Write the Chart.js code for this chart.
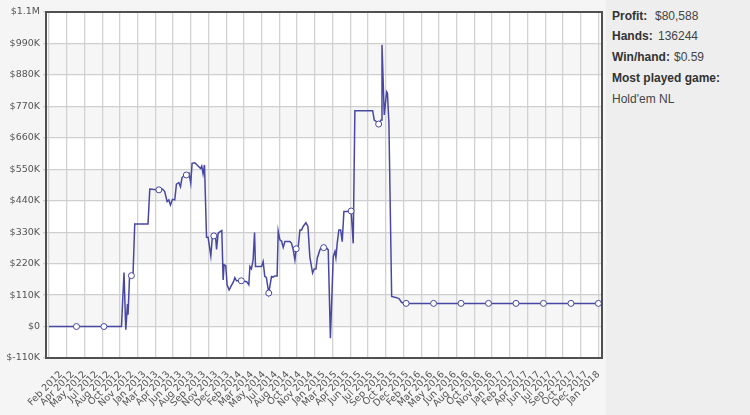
<!DOCTYPE html>
<html>
<head>
<meta charset="utf-8">
<script src="https://cdn.jsdelivr.net/npm/chart.js@4"></script>
<style>
  body{margin:0;background:#f5f5f5;width:750px;height:415px;overflow:hidden;position:relative;font-family:"Liberation Sans",Arial,sans-serif}
  #wrap{position:absolute;left:0;top:0;width:606px;height:415px}
  #side{position:absolute;left:606px;top:0;width:144px;height:415px;background:#eeeeee}
  #stats{position:absolute;left:6px;top:5.5px;font-size:12px;line-height:20.8px;color:#444;width:140px}
  #stats div{position:relative;height:20.8px;white-space:nowrap}
  #stats b{color:#333}
  #stats span{position:absolute;top:0}
</style>
</head>
<body>
<div id="wrap"><canvas id="myChart"></canvas></div>
<div id="side">
  <div id="stats">
    <div><b>Profit:</b><span style="left:43px">$80,588</span></div>
    <div><b>Hands:</b><span style="left:46px">136244</span></div>
    <div><b>Win/hand:</b><span style="left:62px">$0.59</span></div>
    <div><b>Most played game:</b></div>
    <div>Hold'em NL</div>
  </div>
</div>
<script>
// x axis labels (one tick each, evenly spaced)
const xLabels = ['Feb 2012','Apr 2012','May 2012','Jul 2012','Aug 2012','Oct 2012','Nov 2012',
  'Jan 2013','Mar 2013','Apr 2013','Jun 2013','Aug 2013','Sep 2013','Nov 2013','Dec 2013',
  'Feb 2014','Mar 2014','May 2014','Jul 2014','Aug 2014','Oct 2014','Nov 2014',
  'Jan 2015','Mar 2015','Apr 2015','Jun 2015','Jul 2015','Sep 2015','Oct 2015','Dec 2015',
  'Feb 2016','Mar 2016','May 2016','Jun 2016','Aug 2016','Oct 2016','Nov 2016',
  'Jan 2017','Feb 2017','Apr 2017','Jun 2017','Jul 2017','Sep 2017','Oct 2017','Dec 2017','Jan 2018'];

// position along the x axis (in label steps) and running profit in $K
const pos = [0,2.3,4.6,6.07,6.28,6.43,6.57,6.62,6.74,6.9,7.04,7.18,8.29,8.44,9.0,9.2,9.5,9.69,9.89,10.03,10.17,10.34,
  10.53,10.67,10.87,11.01,11.14,11.37,11.5,11.73,11.87,11.98,12.21,12.4,12.69,12.79,12.9,13.02,13.19,13.32,13.55,13.68,
  13.8,13.95,14.03,14.16,14.35,14.47,14.58,14.66,14.8,14.91,15.08,15.3,15.45,15.56,15.7,16.1,16.55,16.73,16.82,16.95,
  17.09,17.21,17.29,17.8,17.93,18.07,18.2,18.4,18.49,18.63,18.77,18.91,19.1,19.19,19.33,19.47,19.61,19.75,19.89,20.17,
  20.3,20.44,20.59,20.7,20.87,21.01,21.15,21.28,21.51,21.68,21.84,22.07,22.2,22.35,22.46,22.68,22.82,23.0,23.2,23.38,
  23.56,23.8,23.94,24.02,24.13,24.27,24.42,24.55,24.69,24.9,25.1,25.3,25.47,25.61,27.1,27.23,27.37,27.6,27.71,27.8,
  27.88,28.07,28.27,28.34,28.46,28.69,29.11,29.3,29.53,29.9,32.2,34.5,36.8,39.1,41.4,43.7,46];
const profitK = [0,0,0,0,189,-11,79,41,170,178,188,359,359,481,478,478,481,472,437,443,425,445,
  443,498,503,489,521,530,530,536,501,571,573,565,553,561,534,565,312,312,247,315,
  317,312,270,326,333,336,163,216,213,146,128,146,157,171,160,160,157,146,210,202,
  233,329,210,210,227,175,172,117,140,175,173,177,177,334,303,299,277,297,297,297,
  292,270,233,272,280,338,338,350,363,350,243,187,201,201,239,268,277,276,276,268,
  -41,245,262,241,291,338,338,297,402,402,402,404,291,755,755,722,718,708,716,722,
  985,740,821,816,711,105,101,98,84,81,81,81,81,81,81,81,81];

// points drawn with a hollow marker
const markerPos = [2.3,4.6,6.9,9.2,11.5,13.8,16.1,18.4,20.7,23.0,25.3,27.6,29.9,32.2,34.5,36.8,39.1,41.4,43.7,46];

const yTicks = [-110000,0,110000,220000,330000,440000,550000,660000,770000,880000,990000,1100000];
const gridCols = 31;

const points = pos.map((x, i) => ({x: x, y: profitK[i] * 1000}));

function money(v) {
  if (v === 0) return '$0';
  if (Math.abs(v) >= 1000000) return '$' + (v / 1000000) + 'M';
  return '$' + Math.round(v / 1000) + 'K';
}

const framePlugin = {
  id: 'frame',
  beforeDraw(chart) {
    const {ctx, chartArea: a, scales} = chart;
    const y = scales.y;
    ctx.save();
    ctx.fillStyle = '#ffffff';
    ctx.fillRect(a.left, a.top, a.right - a.left, a.bottom - a.top);
    ctx.fillStyle = '#f6f6f6';
    for (let v = 0; v < 1100000; v += 220000) {
      const t = y.getPixelForValue(v + 110000), b = y.getPixelForValue(v);
      ctx.fillRect(a.left, t, a.right - a.left, b - t);
    }
    ctx.restore();
  },
  afterDraw(chart) {
    const {ctx, chartArea: a} = chart;
    ctx.save();
    ctx.strokeStyle = '#505050';
    ctx.lineWidth = 2;
    ctx.strokeRect(a.left, a.top, a.right - a.left, a.bottom - a.top);
    ctx.restore();
  }
};

const tickFont = {family: '"DejaVu Sans", Verdana, sans-serif', size: 9.5};
const ctx = document.getElementById('myChart').getContext('2d');

new Chart(ctx, {
  type: 'line',
  data: {
    datasets: [{
      data: points,
      borderColor: '#4848a2',
      borderWidth: 1.5,
      tension: 0,
      pointRadius: c => (c.raw && markerPos.includes(c.raw.x)) ? 3 : 0,
      pointHoverRadius: 0,
      pointBackgroundColor: '#ffffff',
      pointBorderColor: '#4848a2',
      pointBorderWidth: 1
    }]
  },
  options: {
    responsive: true,
    maintainAspectRatio: false,
    animation: false,
    layout: {padding: {top: 12, right: 4, left: 0, bottom: 0}},
    plugins: {legend: {display: false}, tooltip: {enabled: false}},
    scales: {
      x: {
        type: 'linear',
        min: -0.25,
        max: 46.3,
        afterBuildTicks: s => { s.ticks = xLabels.map((l, i) => ({value: i + 1})); },
        afterFit: s => { s.height = 57; s.paddingLeft = 0; s.paddingRight = 0; },
        grid: {display: false, drawTicks: false},
        border: {display: false},
        ticks: {
          autoSkip: false,
          maxRotation: 45,
          minRotation: 45,
          padding: 11,
          color: '#555',
          font: tickFont,
          callback: v => xLabels[Math.round(v) - 1]
        }
      },
      xg: {
        type: 'linear',
        position: 'top',
        min: -0.25,
        max: 46.3,
        afterBuildTicks: s => {
          const t = [];
          for (let k = 0; k <= gridCols; k++) t.push({value: k * 46 / gridCols});
          s.ticks = t;
        },
        afterFit: s => { s.height = 0; s.paddingLeft = 0; s.paddingRight = 0; },
        grid: {color: '#d2d2d2', lineWidth: 1.3, drawTicks: false},
        border: {display: false},
        ticks: {display: false}
      },
      y: {
        min: -110000,
        max: 1100000,
        afterBuildTicks: s => { s.ticks = yTicks.map(v => ({value: v})); },
        afterFit: s => { s.width = 46; },
        grid: {color: '#cfcfcf', lineWidth: 1.3, tickLength: 3},
        border: {display: false},
        ticks: {
          padding: 3,
          color: '#555',
          font: tickFont,
          callback: v => money(v)
        }
      }
    }
  },
  plugins: [framePlugin]
});
</script>
</body>
</html>
